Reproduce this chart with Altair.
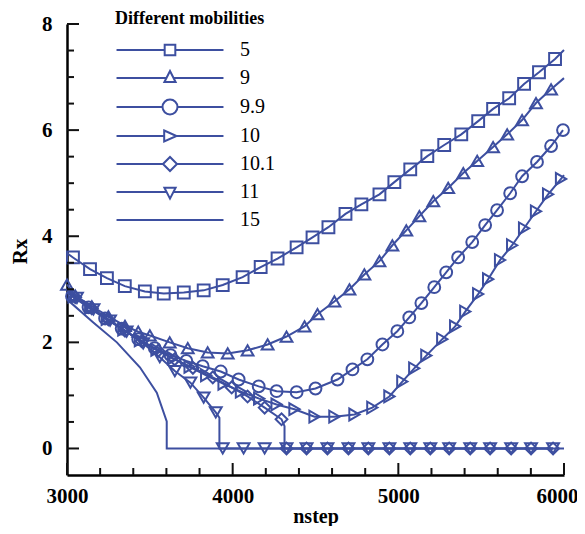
import altair as alt
import pandas as pd

COLOR = "#3d4fa0"
FONT = "Liberation Serif"
SERIES = ["5", "9", "9.9", "10", "10.1", "11", "15"]

# ---- marker positions (nstep, Rx) ----
X_5 = [3036, 3139, 3241, 3349, 3470, 3584, 3705, 3825, 3940, 4060, 4169, 4271, 4386, 4482,
       4578, 4681, 4777, 4886, 4976, 5072, 5175, 5277, 5380, 5482, 5572, 5669, 5759, 5849, 5946]
Y_5 = [3.60, 3.38, 3.21, 3.06, 2.96, 2.92, 2.94, 2.98, 3.08, 3.23, 3.42, 3.58, 3.79, 3.98,
       4.17, 4.42, 4.60, 4.79, 5.02, 5.26, 5.51, 5.72, 5.92, 6.17, 6.40, 6.60, 6.87, 7.09, 7.34]

X_9 = [3000, 3050, 3150, 3250, 3350, 3430, 3500, 3620, 3729, 3849, 3970, 4090, 4211, 4325, 4434,
       4512, 4614, 4705, 4795, 4886, 4964, 5048, 5127, 5211, 5301, 5392, 5476, 5572, 5657, 5747,
       5831, 5922]
Y_9 = [3.09, 2.88, 2.68, 2.49, 2.31, 2.20, 2.13, 2.00, 1.89, 1.81, 1.79, 1.85, 1.96, 2.11, 2.30,
       2.53, 2.77, 3.00, 3.28, 3.53, 3.83, 4.11, 4.38, 4.66, 4.91, 5.19, 5.42, 5.68, 5.92, 6.19,
       6.51, 6.77]

X_99 = [3030, 3130, 3230, 3330, 3430, 3530, 3625, 3720, 3819, 3928, 4036, 4157, 4265, 4386, 4500,
        4633, 4723, 4813, 4904, 4994, 5066, 5139, 5217, 5289, 5361, 5446, 5524, 5596, 5675, 5747,
        5837, 5922, 5994]
Y_99 = [2.87, 2.66, 2.45, 2.26, 2.06, 1.89, 1.76, 1.65, 1.55, 1.45, 1.30, 1.17, 1.08, 1.06, 1.13,
        1.30, 1.49, 1.68, 1.96, 2.21, 2.47, 2.74, 3.04, 3.32, 3.60, 3.89, 4.21, 4.49, 4.81, 5.13,
        5.40, 5.70, 6.00]

X_10 = [3040, 3140, 3240, 3340, 3440, 3540, 3640, 3740, 3840, 3945, 4050, 4160, 4265, 4373, 4494,
        4614, 4735, 4843, 4946, 5024, 5096, 5169, 5265, 5343, 5404, 5482, 5542, 5614, 5687, 5759,
        5831, 5904, 5982]
Y_10 = [2.86, 2.65, 2.44, 2.24, 2.04, 1.86, 1.70, 1.54, 1.38, 1.22, 1.07, 0.94, 0.83, 0.74, 0.60,
        0.60, 0.64, 0.77, 0.98, 1.26, 1.51, 1.75, 2.06, 2.30, 2.58, 2.91, 3.19, 3.55, 3.83, 4.15,
        4.47, 4.79, 5.08]

X_101 = [3050, 3150, 3250, 3350, 3450, 3550, 3650, 3760, 3880, 3994, 4090, 4193, 4295,
         4325, 4446, 4572, 4699, 4819, 4946, 5072, 5193, 5307, 5434, 5554, 5681, 5801, 5934]
Y_101 = [2.85, 2.64, 2.43, 2.22, 2.02, 1.84, 1.68, 1.52, 1.34, 1.15, 0.98, 0.77, 0.55,
         0, 0, 0, 0, 0, 0, 0, 0, 0, 0, 0, 0, 0, 0]

X_11 = [3060, 3160, 3260, 3360, 3460, 3560, 3651, 3745, 3825, 3898,
        3940, 4066, 4193, 4325, 4446, 4572, 4699, 4819, 4946, 5072, 5193, 5307, 5434, 5554,
        5681, 5801, 5934]
Y_11 = [2.84, 2.62, 2.41, 2.20, 1.98, 1.72, 1.46, 1.24, 0.96, 0.68,
        0, 0, 0, 0, 0, 0, 0, 0, 0, 0, 0, 0, 0, 0, 0, 0, 0]

X_15 = []
Y_15 = []

# ---- line-only vertices (curve ends and vertical drops) ----
LX_5, LY_5 = [3000, 6000], [3.68, 7.51]
LX_9, LY_9 = [6000], [6.98]
LX_99, LY_99 = [3000], [2.95]
LX_10, LY_10 = [3000, 6000], [2.95, 5.15]
LX_101, LY_101 = [3000, 4313, 4313], [2.95, 0.42, 0]
LX_11, LY_11 = [3000, 3920, 3920], [2.95, 0.58, 0]
LX_15 = [3000, 3157, 3301, 3440, 3542, 3602, 3602, 6000]
LY_15 = [2.81, 2.38, 2.00, 1.53, 1.05, 0.51, 0, 0]

# axis ticks
X_MAJOR = [3000, 4000, 5000, 6000]
X_MINOR = [3200, 3400, 3600, 3800, 4200, 4400, 4600, 4800, 5200, 5400, 5600, 5800]
Y_MAJOR = [0, 2, 4, 6, 8]
Y_MINOR = [0.5, 1, 1.5, 2.5, 3, 3.5, 4.5, 5, 5.5, 6.5, 7, 7.5]

MARKERS = {"5": (X_5, Y_5), "9": (X_9, Y_9), "9.9": (X_99, Y_99), "10": (X_10, Y_10),
           "10.1": (X_101, Y_101), "11": (X_11, Y_11), "15": (X_15, Y_15)}
LINE_ONLY = {"5": (LX_5, LY_5), "9": (LX_9, LY_9), "9.9": (LX_99, LY_99), "10": (LX_10, LY_10),
             "10.1": (LX_101, LY_101), "11": (LX_11, LY_11), "15": (LX_15, LY_15)}
SHAPES = {"5": "square", "9": "triangle-up", "9.9": "circle", "10": "triangle-right",
          "10.1": "diamond", "11": "triangle-down"}

lines = []
for s in SERIES:
    mx, my = MARKERS[s]
    lx, ly = LINE_ONLY[s]
    verts = sorted(list(zip(mx, my)) + list(zip(lx, ly)), key=lambda p: (p[0], -p[1]))
    for i, (x, y) in enumerate(verts):
        lines.append({"series": s, "x": x, "y": y, "seq": i})
lines = pd.DataFrame(lines)

W, H = 497, 451
X0, X1, Y0, Y1 = 3000, 6000, -0.5, 8
xs = alt.Scale(domain=[X0, X1], nice=False, zero=False)
ys = alt.Scale(domain=[Y0, Y1], nice=False, zero=False)

x_axis = alt.Axis(values=X_MAJOR, format="d", title="nstep", ticks=False, grid=False,
                  domainColor="black", domainWidth=2.5, labelPadding=10, labelFont=FONT,
                  labelFontSize=21, labelFontWeight="bold", labelColor="black",
                  labelOffset={"condition": {"test": "datum.value == 6000", "value": -7},
                               "value": 0},
                  titleFont=FONT, titleFontSize=20, titleFontWeight="bold", titleColor="black",
                  titlePadding=0, labelFlush=False)
y_axis = alt.Axis(values=Y_MAJOR, title="Rx", ticks=False, grid=False,
                  domainColor="black", domainWidth=2.5, labelPadding=15, labelFont=FONT,
                  labelFontSize=21, labelFontWeight="bold", labelColor="black",
                  titleFont=FONT, titleFontSize=21, titleFontWeight="bold", titleColor="black",
                  titleX=-47, titleY=227, titleAlign="center", titleBaseline="middle",
                  labelFlush=False)
X = alt.X("x:Q", scale=xs, axis=x_axis)
Y = alt.Y("y:Q", scale=ys, axis=y_axis)

line_layer = alt.Chart(lines).mark_line(color=COLOR, strokeWidth=2).encode(
    x=X, y=Y, detail="series:N", order="seq:Q")

marker_layers = []
for s in SERIES[:-1]:
    mx, my = MARKERS[s]
    marker_layers.append(
        alt.Chart(pd.DataFrame({"x": mx, "y": my})).mark_point(
            shape=SHAPES[s], filled=False, color=COLOR, strokeWidth=2, size=140, opacity=1
        ).encode(x=X, y=Y))

L = 7.64
LEGEND_PATHS = [
    f"M-{L},0H-0.76M0.76,0H{L}M-0.76,-0.76H0.76V0.76H-0.76Z",
    f"M-{L},0H-0.51M0.51,0H{L}M0,-1L0.8,0.57L-0.8,0.57Z",
    f"M-{L},0H-1.07M1.07,0H{L}M1.07,0A1.07,1.07,0,1,1,-1.07,0A1.07,1.07,0,1,1,1.07,0Z",
    f"M-{L},0H-0.83M0.93,0H{L}M-0.83,-0.79L0.93,0L-0.83,0.79Z",
    f"M-{L},0H-1M1,0H{L}M-1,0L0,-1L1,0L0,1Z",
    f"M-{L},0H-0.49M0.49,0H{L}M0,0.95L0.8,-0.6L-0.8,-0.6Z",
    f"M-{L},0H{L}",
]

# legend entries only (no position -> nothing drawn in the plot)
legend_df = pd.DataFrame({"series": SERIES, "x": [None] * len(SERIES), "y": [None] * len(SERIES)})
legend_layer = alt.Chart(legend_df).mark_point(
    filled=False, color=COLOR, strokeWidth=2, size=196, opacity=1).encode(
    x=X, y=Y,
    shape=alt.Shape("series:N",
                    scale=alt.Scale(domain=SERIES, range=LEGEND_PATHS),
                    legend=alt.Legend(title="Different mobilities", orient="none",
                                      legendX=48, legendY=-14, padding=0,
                                      titleFont=FONT, titleFontSize=18, titleFontWeight="bold",
                                      titleColor="black", titlePadding=12,
                                      labelFont=FONT, labelFontSize=20, labelColor="black",
                                      labelOffset=60, symbolOffset=45, symbolSize=196,
                                      symbolStrokeWidth=2, symbolStrokeColor=COLOR,
                                      symbolOpacity=1, rowPadding=7)))

# inward axis ticks (lengths in px converted to data units)
MAJ, MIN = 12, 7
dy_maj, dy_min = MAJ * (Y1 - Y0) / H, MIN * (Y1 - Y0) / H
dx_maj, dx_min = MAJ * (X1 - X0) / W, MIN * (X1 - X0) / W

xt = pd.DataFrame({"x": X_MAJOR + X_MINOR,
                   "y": [Y0] * (len(X_MAJOR) + len(X_MINOR)),
                   "y2": [Y0 + dy_maj] * len(X_MAJOR) + [Y0 + dy_min] * len(X_MINOR)})
yt = pd.DataFrame({"y": Y_MAJOR + Y_MINOR,
                   "x": [X0] * (len(Y_MAJOR) + len(Y_MINOR)),
                   "x2": [X0 + dx_maj] * len(Y_MAJOR) + [X0 + dx_min] * len(Y_MINOR)})
xtick_layer = alt.Chart(xt).mark_rule(color="#111111", strokeWidth=2).encode(
    x=X, y=Y, y2="y2:Q")
ytick_layer = alt.Chart(yt).mark_rule(color="#111111", strokeWidth=2).encode(
    y=Y, x=X, x2="x2:Q")

chart = alt.layer(line_layer, *marker_layers, legend_layer, xtick_layer, ytick_layer).properties(
    width=W, height=H, autosize="none",
    padding={"left": 59, "top": 16, "right": 13, "bottom": 51},
).configure_view(stroke=None)

chart.save("out.html", embed_options={"renderer": "svg", "actions": False})
